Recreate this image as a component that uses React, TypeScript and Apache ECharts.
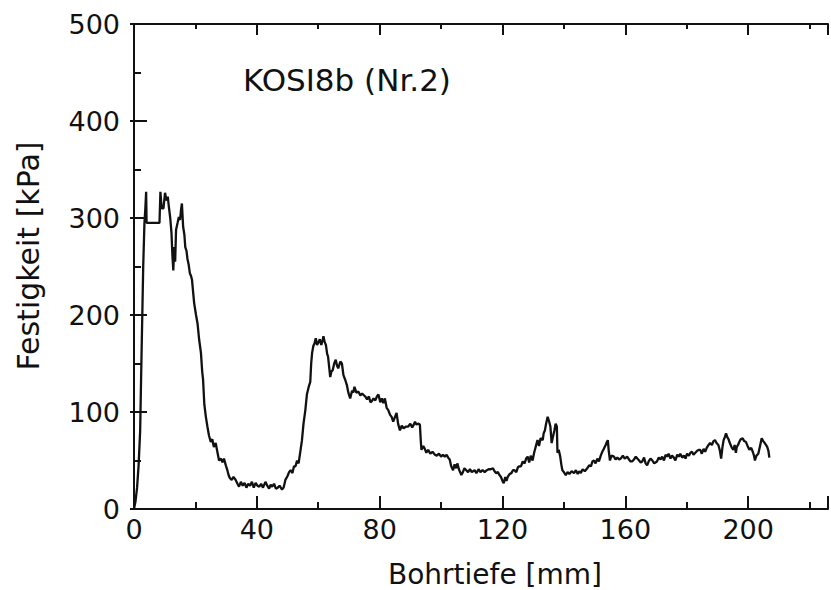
import React, { useEffect, useRef } from "react";
import * as echarts from "echarts";

const depthMm: number[] = [
  0, 0.5, 1, 1.5, 2, 2.3, 2.7, 3.0, 3.4, 3.7, 3.95, 4.1, 5, 6, 7, 8.3, 8.6, 9.0, 9.6, 10.1,
  10.6, 11.0, 11.3, 11.8, 12.2, 12.5, 12.8, 13.1, 13.4, 13.7, 14.2, 14.6, 15.0, 15.3, 15.6, 16.0, 16.4, 16.7, 17.1, 17.4,
  17.8, 18.2, 18.6, 18.9, 19.3, 19.6, 20.2, 20.7, 21.2, 21.8, 22.2, 22.5, 22.9, 23.4, 23.9, 24.4, 25.0, 25.5, 26.0, 26.6,
  27.2, 27.7, 28.3, 28.8, 29.3, 29.9, 30.4, 30.8, 31.2, 31.8, 32.4, 33.1, 33.7, 34.2, 34.8, 35.4, 36.0, 36.6, 37.2, 37.8,
  38.4, 39.0, 39.6, 40.2, 40.8, 41.4, 42.0, 42.8, 43.4, 44.0, 44.5, 45.0, 45.6, 46.2, 46.8, 47.4, 48.2, 48.7, 49.3, 50.0,
  50.5, 51.0, 51.6, 52.1, 52.6, 53.1, 53.6, 54.2, 54.7, 55.2, 55.8, 56.3, 56.9, 57.4, 57.7, 58.0, 58.4, 58.8, 59.2, 59.6,
  60.1, 60.5, 61.0, 61.4, 61.7, 62.1, 62.5, 62.9, 63.2, 63.6, 63.9, 64.3, 64.7, 65.2, 65.7, 66.1, 66.5, 66.8, 67.2, 67.7,
  68.2, 68.8, 69.3, 69.8, 70.4, 71.0, 71.4, 71.8, 72.4, 73.1, 73.7, 74.3, 75.3, 75.9, 76.5, 77.0, 77.4, 78.0, 78.6, 79.1,
  79.6, 80.2, 80.7, 81.2, 81.7, 82.3, 82.8, 83.4, 83.9, 84.4, 85.0, 85.5, 86.0, 86.6, 87.2, 87.8, 88.5, 89.3, 90.0, 90.6,
  91.1, 91.5, 92.0, 92.5, 93.1, 93.4, 93.6, 94.2, 94.7, 95.2, 95.8, 96.5, 97.2, 98.0, 98.6, 99.3, 100.0, 100.6, 101.2, 101.8,
  102.3, 102.8, 103.3, 103.9, 104.4, 104.9, 105.3, 105.8, 106.2, 106.6, 107.1, 107.6, 108.2, 108.8, 109.4, 110.0, 110.9, 111.5, 112.2, 112.8,
  113.5, 114.2, 114.9, 115.5, 116.2, 116.9, 117.4, 117.9, 118.5, 119.0, 119.5, 120.0, 120.4, 120.9, 121.3, 121.7, 122.3, 122.9, 123.4, 123.9,
  124.5, 125.0, 125.5, 126.0, 126.6, 127.2, 127.7, 128.2, 128.7, 129.2, 129.8, 130.3, 130.8, 131.4, 131.9, 132.4, 133.1, 133.4, 133.8, 134.2,
  134.7, 135.2, 135.6, 136.0, 136.4, 136.9, 137.3, 137.7, 137.9, 138.3, 138.8, 139.2, 139.5, 140.0, 140.6, 141.2, 141.8, 142.5, 143.3, 143.9,
  144.5, 145.0, 145.5, 146.1, 146.8, 147.6, 148.2, 148.8, 149.3, 149.8, 150.3, 150.9, 151.4, 152.0, 152.5, 153.0, 153.6, 154.0, 154.3, 154.6,
  155.0, 155.5, 156.3, 156.8, 157.4, 158.0, 158.5, 159.2, 159.8, 160.6, 161.2, 161.7, 162.2, 162.8, 163.4, 163.9, 164.5, 165.0, 165.5, 166.1,
  166.6, 167.1, 167.6, 168.2, 168.8, 169.4, 170.3, 170.9, 171.5, 172.0, 172.6, 173.1, 173.6, 174.1, 174.7, 175.2, 175.8, 176.3, 176.9, 177.4,
  177.9, 178.5, 179.1, 179.6, 180.1, 180.7, 181.2, 181.7, 182.2, 182.8, 183.4, 184.0, 184.4, 184.9, 185.5, 186.0, 186.5, 187.1, 187.6, 188.2,
  188.7, 189.2, 189.7, 190.3, 190.8, 191.2, 191.6, 192.0, 192.4, 192.8, 193.2, 193.6, 193.9, 194.3, 194.7, 195.2, 195.6, 196.0, 196.3, 196.7,
  197.1, 197.6, 198.2, 198.7, 199.3, 199.8, 200.4, 201.0, 201.5, 201.9, 202.2, 202.7, 203.3, 203.8, 204.4, 204.9, 205.4, 205.8, 206.2, 206.6,
  206.9,
];

const strengthKPa: number[] = [
  0, 8, 22, 45, 80, 133, 200, 250, 295, 310, 327, 295, 295, 295, 295, 295, 327, 310, 310, 326,
  318, 322, 313, 300, 285, 262, 246, 270, 255, 288, 295, 301, 298, 308, 315, 291, 283, 270, 266, 258,
  252, 243, 240, 236, 222, 212, 200, 191, 175, 161, 142, 133, 108, 95, 85, 76, 69, 72, 64, 68,
  58, 50, 52, 48, 52, 45, 40, 35, 32, 30, 33, 30, 26, 23, 28, 24, 27, 22, 26, 24,
  28, 22, 27, 24, 23, 26, 22, 28, 24, 21, 25, 23, 26, 21, 22, 24, 20, 22, 30, 34,
  38, 40, 37, 44, 44, 50, 47, 60, 71, 88, 102, 118, 126, 131, 150, 161, 168, 171, 176, 169,
  172, 175, 169, 174, 178, 172, 169, 160, 157, 145, 136, 142, 143, 150, 154, 148, 145, 148, 152, 150,
  138, 133, 128, 120, 114, 122, 120, 126, 120, 121, 117, 119, 116, 113, 116, 110, 111, 114, 112, 116,
  118, 110, 114, 109, 114, 104, 102, 97, 95, 90, 95, 99, 88, 81, 86, 83, 85, 85, 88, 84,
  87, 90, 87, 88, 87, 70, 61, 65, 62, 58, 61, 57, 59, 56, 55, 57, 54, 56, 54, 56,
  53, 51, 44, 40, 46, 42, 47, 41, 38, 35, 38, 42, 40, 38, 41, 38, 40, 37, 41, 38,
  40, 38, 40, 41, 41, 42, 39, 37, 38, 35, 33, 29, 26.5, 33, 29, 33, 36, 37, 40, 40,
  38, 43, 44, 44, 49, 47, 52, 54, 48, 55, 50, 58, 64, 71, 65, 73, 71, 78, 81, 88,
  95, 90, 85, 68, 74, 81, 88, 85, 58, 61, 54, 45, 40, 38, 35, 38, 36, 39, 37, 40,
  36, 39, 37, 41, 39, 42, 45, 44, 49, 50, 47, 52, 49, 55, 59, 62, 66, 69, 71, 60,
  50, 55, 54, 51, 53, 51, 52, 55, 52, 54, 51, 49, 49, 51, 54, 52, 50, 48, 49, 53,
  47, 45, 49, 52, 50, 47, 49, 53, 51, 54, 50, 56, 54, 57, 52, 55, 53, 50, 56, 54,
  57, 53, 55, 52, 57, 55, 58, 59, 56, 58, 60, 61, 61, 57, 62, 59, 63, 66, 68, 66,
  70, 71, 68, 66, 60, 52, 63, 71, 74, 78, 74, 72, 69, 66, 63, 61, 66, 58, 64, 66,
  69, 72, 73, 70, 69, 65, 61, 63, 59, 55, 50, 55, 57, 64, 73, 70, 68, 66, 64, 60,
  53,
];

const xTickLabels: string[] = ["0", "40", "80", "120", "160", "200"];
const yTickLabels: string[] = ["0", "100", "200", "300", "400", "500"];

const annotationText = "KOSI8b (Nr.2)";
const xTitle = "Bohrtiefe [mm]";
const yTitle = "Festigkeit [kPa]";

export default function App() {
  const ref = useRef<HTMLDivElement>(null);

  useEffect(() => {
    document.body.style.margin = "0";
    if (!ref.current) return;
    const chart = echarts.init(ref.current, undefined, { renderer: "svg" });
    const font = "DejaVu Sans";
    const black = "#111";
    const X_MAX = 226;
    const lineStyle = { color: black, width: 2 };

    const data = depthMm.map((d, i) => [d, strengthKPa[i]]);

    const baseX = (pos: "top" | "bottom", interval: number, tickLen: number, showLabel: boolean, showLine: boolean) => ({
      type: "value" as const,
      position: pos,
      min: 0,
      max: X_MAX,
      interval,
      axisLine: { show: showLine, lineStyle },
      axisTick: { show: true, inside: true, length: tickLen, lineStyle },
      splitLine: { show: false },
      axisLabel: {
        show: showLabel,
        fontFamily: font,
        fontSize: 27,
        color: black,
        margin: 7,
        formatter: (v: number) => (xTickLabels.includes(String(v)) ? String(v) : ""),
      },
    });

    chart.setOption({
      animation: false,
      backgroundColor: "#fff",
      grid: { left: 134, top: 24, width: 697, height: 485, containLabel: false },
      xAxis: [
        baseX("bottom", 40, 13, true, true),
        baseX("bottom", 20, 7, false, false),
        baseX("top", 40, 11, false, true),
        baseX("top", 20, 5, false, false),
      ],
      yAxis: [
        {
          type: "value",
          position: "left",
          min: 0,
          max: 500,
          interval: 100,
          axisLine: { show: true, lineStyle },
          axisTick: { show: true, inside: true, length: 13, lineStyle },
          minorTick: { show: true, splitNumber: 2, length: 7, lineStyle },
          splitLine: { show: false },
          axisLabel: {
            fontFamily: font,
            fontSize: 27,
            color: black,
            margin: 14,
            formatter: (v: number) => (yTickLabels.includes(String(v)) ? String(v) : ""),
          },
        },
        {
          type: "value",
          position: "right",
          min: 0,
          max: 500,
          interval: 100,
          axisLine: { show: false },
          axisTick: { show: true, inside: true, length: 4, lineStyle },
          splitLine: { show: false },
          axisLabel: { show: false },
        },
      ],
      series: [
        {
          type: "line",
          xAxisIndex: 0,
          yAxisIndex: 0,
          data,
          showSymbol: false,
          symbol: "none",
          lineStyle: { color: black, width: 2.3 },
        },
      ],
      graphic: [
        {
          type: "text",
          left: 243,
          top: 64,
          style: { text: annotationText, fontFamily: font, fontSize: 31, fill: black },
        },
        {
          type: "text",
          x: 495,
          y: 574,
          style: {
            text: xTitle,
            fontFamily: font,
            fontSize: 28,
            fill: black,
            align: "center",
            verticalAlign: "middle",
          },
        },
        {
          type: "text",
          x: 28,
          y: 256,
          rotation: Math.PI / 2,
          style: {
            text: yTitle,
            fontFamily: font,
            fontSize: 30,
            fill: black,
            align: "center",
            verticalAlign: "middle",
          },
        },
      ],
    });

    return () => chart.dispose();
  }, []);

  return <div ref={ref} style={{ width: 831, height: 590 }} />;
}
